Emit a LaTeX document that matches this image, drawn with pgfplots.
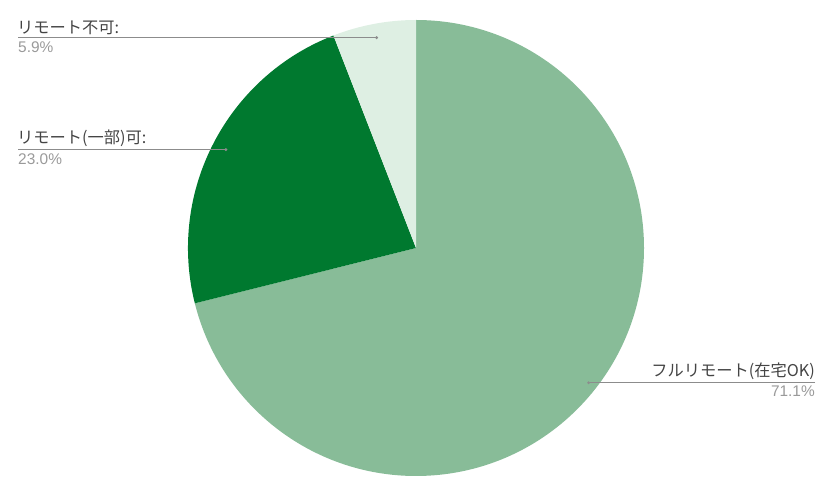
\documentclass[border=0pt]{standalone}
\usepackage{pgfplots}
\pgfplotsset{compat=1.18}
\usepackage{pgfplotstable}
\usepackage{fontspec}
\setmainfont{Liberation Sans}
\newfontfamily\cjk{Noto Sans CJK JP}
\definecolor{fullc}{HTML}{88BC98}
\definecolor{darkc}{HTML}{00792F}
\definecolor{lightc}{HTML}{DEEFE3}
\definecolor{labc}{HTML}{444444}
\definecolor{pctc}{HTML}{9A9A9A}
\definecolor{leadc}{HTML}{8C8C8C}
\pgfplotstableread{
value
71.1
23.0
5.9
}\piedata
\pgfplotstablegetelem{0}{value}\of\piedata \let\vA\pgfplotsretval
\pgfplotstablegetelem{1}{value}\of\piedata \let\vB\pgfplotsretval
\pgfplotstablegetelem{2}{value}\of\piedata \let\vC\pgfplotsretval
\pgfmathsetmacro\aA{90}
\pgfmathsetmacro\aB{\aA-\vA*3.6}
\pgfmathsetmacro\aC{\aB-\vB*3.6}
\pgfmathsetmacro\aD{\aC-\vC*3.6}
\pgfmathsetmacro\mA{(\aA+\aB)/2}
\pgfmathsetmacro\mB{(\aB+\aC)/2}
\pgfmathsetmacro\mC{(\aC+\aD)/2}
\def\cx{416}\def\cy{246}\def\R{228}\def\r{214}
\pgfmathsetmacro\eAx{\cx+219*cos(\mA)}\pgfmathsetmacro\eAy{\cy+219*sin(\mA)}
\pgfmathsetmacro\eBx{\cx+\r*cos(\mB)}\pgfmathsetmacro\eBy{\cy+\r*sin(\mB)}
\pgfmathsetmacro\eCx{\cx+\r*cos(\mC)}\pgfmathsetmacro\eCy{\cy+\r*sin(\mC)}
\begin{document}
\begin{tikzpicture}
\begin{axis}[
  scale only axis, width=837bp, height=494bp,
  xmin=0, xmax=837, ymin=0, ymax=494,
  hide axis, clip=false]
\path (axis cs:0,0) rectangle (axis cs:837,494);
\fill[fullc] (axis cs:\cx,\cy) -- ++(\aA:\R bp) arc[start angle=\aA, end angle=\aB, radius=\R bp] -- cycle;
\fill[darkc] (axis cs:\cx,\cy) -- ++(\aB:\R bp) arc[start angle=\aB, end angle=\aC, radius=\R bp] -- cycle;
\fill[lightc] (axis cs:\cx,\cy) -- ++(\aC:\R bp) arc[start angle=\aC, end angle=\aD, radius=\R bp] -- cycle;
% leader lines
\draw[leadc, line width=0.8bp] (axis cs:18,\eCy) -- (axis cs:\eCx,\eCy);
\fill[leadc] (axis cs:\eCx,\eCy) circle[radius=1.6bp];
\draw[leadc, line width=0.8bp] (axis cs:18,\eBy) -- (axis cs:\eBx,\eBy);
\fill[leadc] (axis cs:\eBx,\eBy) circle[radius=1.6bp];
\draw[leadc, line width=0.8bp] (axis cs:815,\eAy) -- (axis cs:\eAx,\eAy);
\fill[leadc] (axis cs:\eAx,\eAy) circle[radius=1.6bp];
% labels
\node[anchor=base west, inner sep=0pt, text=labc, font=\cjk\fontsize{16.3}{19}\selectfont] at (axis cs:17,460) {リモート不可:};
\node[anchor=base west, inner sep=0pt, text=pctc, font=\fontsize{15.5}{18}\selectfont] at (axis cs:18,441) {5.9\%};
\node[anchor=base west, inner sep=0pt, text=labc, font=\cjk\fontsize{16.3}{19}\selectfont] at (axis cs:17,350) {リモート(一部)可:};
\node[anchor=base west, inner sep=0pt, text=pctc, font=\fontsize{15.5}{18}\selectfont] at (axis cs:18,329) {23.0\%};
\node[anchor=base east, inner sep=0pt, text=labc, font=\cjk\fontsize{16.3}{19}\selectfont] at (axis cs:815,117) {フルリモート(在宅OK)};
\node[anchor=base east, inner sep=0pt, text=pctc, font=\fontsize{15.5}{18}\selectfont] at (axis cs:815,97) {71.1\%};
\end{axis}
\end{tikzpicture}
\end{document}
